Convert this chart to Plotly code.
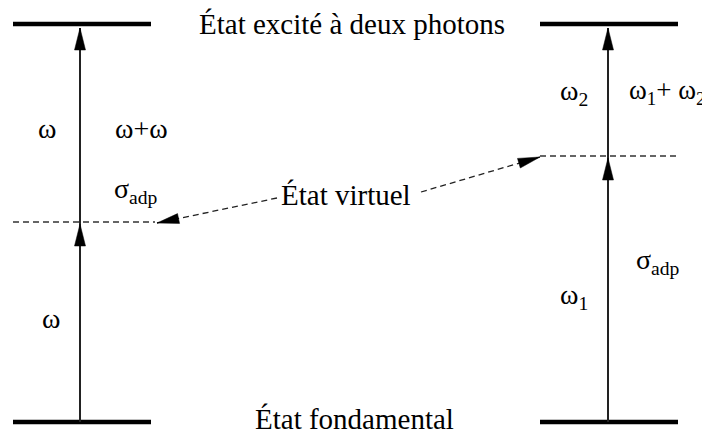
import math
import plotly.graph_objects as go

# ---- diagram data (screen-pixel-like coordinates, y grows downward) ----
level_names = ["État excité à deux photons", "État virtuel", "État fondamental"]
left_span = [13, 151]
right_span = [540, 678]
y_excited = 24
y_ground = 422
y_virtual_left = 222
y_virtual_right = 156
x_left = 80
x_right = 608

left_labels = ["ω", "ω+ω", "σ<sub>adp</sub>", "ω"]
right_labels = ["ω<sub>2</sub>", "ω<sub>1</sub>+ ω<sub>2</sub>", "σ<sub>adp</sub>", "ω<sub>1</sub>"]

# pointer lines from the "État virtuel" label: (start, tip)
pointer_left = [(277, 198), (157, 223)]
pointer_right = [(421, 192), (540, 157)]

FONT = "Liberation Serif, Times New Roman, serif"
OFF = 8  # page body margin in the browser
fig = go.Figure()


def arrowhead(x0, y0, x1, y1, length=22, width=11):
    """Filled triangle with tip at (x1, y1) pointing away from (x0, y0)."""
    dx, dy = x1 - x0, y1 - y0
    n = math.hypot(dx, dy)
    ux, uy = dx / n, dy / n
    bx, by = x1 - ux * length, y1 - uy * length
    px, py = -uy * width / 2, ux * width / 2
    fig.add_trace(go.Scatter(x=[x1, bx + px, bx - px, x1], y=[y1, by + py, by - py, y1],
                             mode="lines", fill="toself", fillcolor="black",
                             line=dict(color="black", width=0.5), hoverinfo="skip"))


# energy levels (thick bars)
for span in (left_span, right_span):
    for yv in (y_excited, y_ground):
        fig.add_trace(go.Scatter(x=span, y=[yv, yv], mode="lines",
                                 line=dict(color="black", width=4.5), hoverinfo="skip"))

# virtual levels (dashed)
fig.add_trace(go.Scatter(x=[left_span[0], 155], y=[y_virtual_left]*2, mode="lines",
                         line=dict(color="#333", width=1.3, dash="6px,4px"), hoverinfo="skip"))
fig.add_trace(go.Scatter(x=right_span, y=[y_virtual_right]*2, mode="lines",
                         line=dict(color="#333", width=1.3, dash="6px,4px"), hoverinfo="skip"))

# vertical transition arrows
for xv, yvirt in ((x_left, y_virtual_left), (x_right, y_virtual_right)):
    fig.add_trace(go.Scatter(x=[xv, xv], y=[y_ground, y_excited + 4], mode="lines",
                             line=dict(color="#222", width=2), hoverinfo="skip"))
    arrowhead(xv, y_ground, xv, yvirt + 2)
    arrowhead(xv, y_ground, xv, y_excited + 4)

# dashed pointers from "État virtuel"
for (p0, p1) in (pointer_left, pointer_right):
    fig.add_trace(go.Scatter(x=[p0[0], p1[0]], y=[p0[1], p1[1]], mode="lines",
                             line=dict(color="#222", width=1.3, dash="6px,4px"),
                             hoverinfo="skip"))
    arrowhead(p0[0], p0[1], p1[0], p1[1], length=22, width=10)


def txt(x, y, s, size=29, xanchor="center", yanchor="middle"):
    fig.add_annotation(x=x, y=y, xref="x", yref="y", text=s, showarrow=False,
                       font=dict(family=FONT, size=size, color="black"),
                       xanchor=xanchor, yanchor=yanchor)


txt(352, 24, level_names[0])
txt(346, 195, level_names[1])
txt(354, 437, level_names[2], yanchor="bottom")

txt(47, 128, left_labels[0], 28)
txt(141, 128, left_labels[1], 28)
txt(136, 190, left_labels[2], 28)
txt(51, 318, left_labels[3], 28)

txt(574, 92, right_labels[0], 28)
txt(627, 92, right_labels[1], 27, xanchor="left")
txt(658, 261, right_labels[2], 28)
txt(574, 296, right_labels[3], 28)

fig.update_layout(width=710, height=434, margin=dict(l=0, r=0, t=0, b=0),
                  paper_bgcolor="white", plot_bgcolor="white", showlegend=False,
                  xaxis=dict(range=[OFF, 710 + OFF], visible=False, fixedrange=True),
                  yaxis=dict(range=[434 + OFF, OFF], visible=False, fixedrange=True))
fig.write_html("out.html")
